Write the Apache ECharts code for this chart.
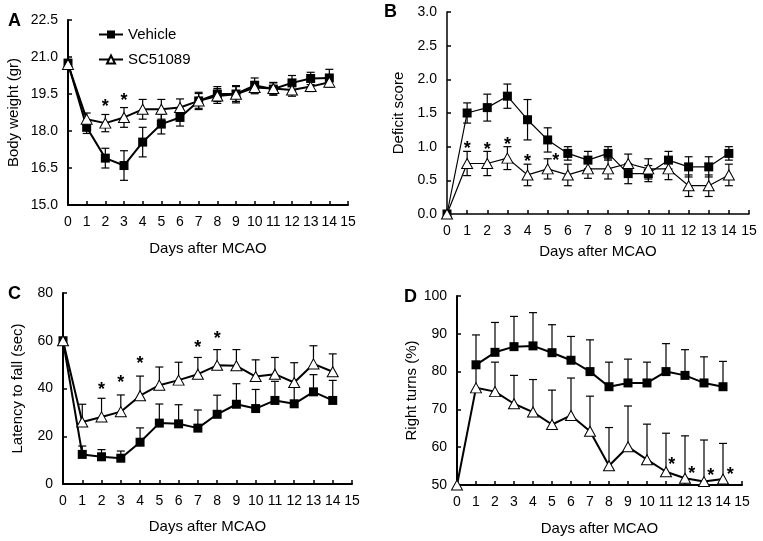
<!DOCTYPE html>
<html><head><meta charset="utf-8">
<script src="https://cdn.jsdelivr.net/npm/echarts@6/dist/echarts.min.js"></script>
<style>html,body{margin:0;padding:0;background:#fff}#c{width:763px;height:541px}</style>
</head><body><div id="c"></div>
<script>
const days = [0,1,2,3,4,5,6,7,8,9,10,11,12,13,14];

const weightVehicle    = [20.75,18.15,16.9,16.6,17.55,18.28,18.55,19.22,19.5,19.5,19.85,19.7,19.95,20.13,20.15];
const weightVehicleErr = [0.15,0.25,0.4,0.6,0.6,0.4,0.35,0.3,0.3,0.3,0.3,0.25,0.3,0.25,0.35];
const weightSC         = [20.7,18.48,18.32,18.55,18.88,18.88,18.95,19.22,19.42,19.49,19.76,19.72,19.66,19.8,19.98];
const weightSCErr      = [0.15,0.25,0.35,0.4,0.4,0.4,0.35,0.35,0.3,0.35,0.25,0.25,0.25,0.2,0.2];
const weightStars      = [[2,19.15],[3,19.39]];

const deficitVehicle    = [0,1.5,1.58,1.75,1.4,1.1,0.9,0.8,0.9,0.6,0.6,0.8,0.7,0.7,0.9];
const deficitVehicleErr = [0,0.15,0.2,0.18,0.3,0.18,0.1,0.13,0.1,0.15,0.12,0.13,0.15,0.15,0.1];
const deficitSC         = [0,0.75,0.75,0.83,0.58,0.67,0.58,0.67,0.67,0.75,0.67,0.67,0.42,0.42,0.58];
const deficitSCErr      = [0,0.18,0.18,0.17,0.16,0.15,0.16,0.14,0.15,0.14,0.15,0.16,0.16,0.16,0.16];
const deficitStars      = [[1,1.03],[2,1.02],[3,1.09],[4,0.84],[5.4,0.85]];

const latencyVehicle    = [60,12.4,11.4,10.8,17.5,25.5,25.2,23.4,29.2,33.4,31.6,35,33.6,38.6,35];
const latencyVehicleErr = [0,3.5,3,3,6,8,8,7.6,8,8.6,8,8,7.8,7.2,8.4];
const latencySC         = [60,26,28.1,30.3,37,41.4,43.5,46,49.7,49.5,45,46,42.5,50.3,47];
const latencySCErr      = [0,7.4,7.8,7,8.2,7.6,7.5,7,6.6,6.8,7,7,8.3,7.6,7.5];
const latencyStars      = [[2,41.1],[3,44.1],[4,52.1],[7,59],[8,62.8]];

const turnsVehicle    = [null,81.8,85.1,86.6,86.8,85,83,80,76,77,77,80,79,77,76];
const turnsVehicleErr = [null,7.9,7.9,8,8.8,7.4,6.3,8.4,6.5,6.3,5.5,7.4,6.8,6.9,6.7];
const turnsSC         = [50,75.7,74.7,71.5,69.3,66,68.4,64.2,55.1,60.1,56.7,53.5,51.8,50.9,51.6];
const turnsSCErr      = [0,6.5,7.8,7.5,8.6,9.1,9.9,9.3,10.1,10.8,9.4,10.2,11.2,11,9.4];
const turnsStars      = [[11.3,56.4],[12.35,54.2],[13.36,53.6],[14.38,53.8]];

const panelLetters = ['A','B','C','D'];
const yNames = ['Body weight (gr)','Deficit score','Latency to fall (sec)','Right turns (%)'];
const xName = 'Days after MCAO';

const FONT = '"Liberation Sans", Arial, sans-serif';

const grids = [
  {left:68, top:20, width:280, height:185},
  {left:447, top:12, width:302, height:202},
  {left:63, top:293, width:289, height:191},
  {left:457, top:296, width:285, height:189}
];
const yCfg = [
  {min:15, max:22.5, interval:1.5, dec:1, gap:47, lw:2},
  {min:0, max:3, interval:0.5, dec:1, gap:41, lw:1.5},
  {min:0, max:80, interval:20, dec:0, gap:38, lw:2},
  {min:50, max:100, interval:10, dec:0, gap:37, lw:2}
];
const xGaps = [36, 30, 35, 36];
const lineW = [2, 1.2, 2, 2];

function pairs(vals){ const out=[]; days.forEach((d,i)=>{ if(vals[i]!=null) out.push([d, vals[i]]); }); return out; }
function errPairs(vals, errs){ const out=[]; days.forEach((d,i)=>{ if(vals[i]!=null && errs[i]>0) out.push([d, vals[i], errs[i]]); }); return out; }

function errRender(both){
  return function(params, api){
    const x=api.value(0), y=api.value(1), e=api.value(2);
    const p=api.coord([x,y]);
    const hi=api.coord([x,y+e]);
    const lo=both? api.coord([x,y-e]) : p;
    const w=4;
    const st={stroke:'#000', lineWidth:1.2};
    const ch=[
      {type:'line', shape:{x1:p[0],y1:hi[1],x2:p[0],y2:lo[1]}, style:st},
      {type:'line', shape:{x1:p[0]-w,y1:hi[1],x2:p[0]+w,y2:hi[1]}, style:st}
    ];
    if(both) ch.push({type:'line', shape:{x1:p[0]-w,y1:lo[1],x2:p[0]+w,y2:lo[1]}, style:st});
    return {type:'group', children:ch};
  };
}
function starRender(params, api){
  const p=api.coord([api.value(0), api.value(1)]);
  const fs=18;
  return {type:'text', x:p[0], y:p[1]+0.25*fs, style:{text:'*', fontSize:fs, fontWeight:'bold', fontFamily:FONT, fill:'#000', align:'center', verticalAlign:'middle'}};
}

const panels = [
  {v:weightVehicle, ve:weightVehicleErr, s:weightSC, se:weightSCErr, stars:weightStars, both:true},
  {v:deficitVehicle, ve:deficitVehicleErr, s:deficitSC, se:deficitSCErr, stars:deficitStars, both:true},
  {v:latencyVehicle, ve:latencyVehicleErr, s:latencySC, se:latencySCErr, stars:latencyStars, both:false},
  {v:turnsVehicle, ve:turnsVehicleErr, s:turnsSC, se:turnsSCErr, stars:turnsStars, both:false}
];

const xAxes=[], yAxes=[], series=[];
panels.forEach((pn,gi)=>{
  const yc=yCfg[gi];
  xAxes.push({
    gridIndex:gi, type:'value', min:0, max:15, interval:1,
    name:xName, nameLocation:'middle', nameGap:xGaps[gi],
    nameTextStyle:{fontSize:15, fontFamily:FONT, color:'#000'},
    axisLine:{show:true, onZero:false, lineStyle:{color:'#000', width:yc.lw}},
    axisTick:{show:true, inside:true, length:4, lineStyle:{color:'#000', width:1.5}},
    axisLabel:{fontSize:14, fontFamily:FONT, color:'#000', margin:10},
    splitLine:{show:false}
  });
  yAxes.push({
    gridIndex:gi, type:'value', min:yc.min, max:yc.max, interval:yc.interval,
    name:yNames[gi], nameLocation:'middle', nameGap:yc.gap,
    nameTextStyle:{fontSize:15, fontFamily:FONT, color:'#000'},
    axisLine:{show:true, onZero:false, lineStyle:{color:'#000', width:yc.lw}},
    axisTick:{show:true, inside:true, length:4, lineStyle:{color:'#000', width:1.5}},
    axisLabel:{fontSize:14, fontFamily:FONT, color:'#000', margin:10, formatter:(v)=>v.toFixed(yc.dec)},
    splitLine:{show:false}
  });
  series.push({type:'custom', name:'errV'+gi, xAxisIndex:gi, yAxisIndex:gi, renderItem:errRender(pn.both), data:errPairs(pn.v,pn.ve), encode:{x:0,y:1}, z:1, silent:true});
  series.push({type:'custom', name:'errS'+gi, xAxisIndex:gi, yAxisIndex:gi, renderItem:errRender(pn.both), data:errPairs(pn.s,pn.se), encode:{x:0,y:1}, z:1, silent:true});
  series.push({type:'line', name:'Vehicle', xAxisIndex:gi, yAxisIndex:gi, data:pairs(pn.v),
    symbol:'rect', symbolSize:9, showAllSymbol:true,
    lineStyle:{color:'#000', width:lineW[gi]}, itemStyle:{color:'#000', borderColor:'#000', borderWidth:0}, z:3, animation:false});
  series.push({type:'line', name:'SC51089', xAxisIndex:gi, yAxisIndex:gi, data:pairs(pn.s),
    symbol:'triangle', symbolSize:[11,10], showAllSymbol:true,
    lineStyle:{color:'#000', width:lineW[gi]}, itemStyle:{color:'#fff', borderColor:'#000', borderWidth:1}, z:4, animation:false});
  series.push({type:'custom', name:'stars'+gi, xAxisIndex:gi, yAxisIndex:gi, renderItem:starRender, data:pn.stars, encode:{x:0,y:1}, z:5, silent:true});
});

const letterPos = [[8,12],[384,3],[8,285],[404,288]];
const graphic = panelLetters.map((t,i)=>({type:'text', left:letterPos[i][0], top:letterPos[i][1],
  style:{text:t, fontSize:18, fontWeight:'bold', fontFamily:FONT, fill:'#000'}}));

const chart = echarts.init(document.getElementById('c'), null, {renderer:'canvas'});
chart.setOption({
  backgroundColor:'#fff',
  animation:false,
  textStyle:{fontFamily:FONT},
  grid:grids,
  xAxis:xAxes,
  yAxis:yAxes,
  legend:{data:['Vehicle','SC51089'], orient:'vertical', left:93, top:22, itemWidth:24, itemHeight:10, itemGap:10,
    textStyle:{fontSize:15, fontFamily:FONT, color:'#000'}, selectedMode:false},
  graphic:graphic,
  series:series
});
</script></body></html>
